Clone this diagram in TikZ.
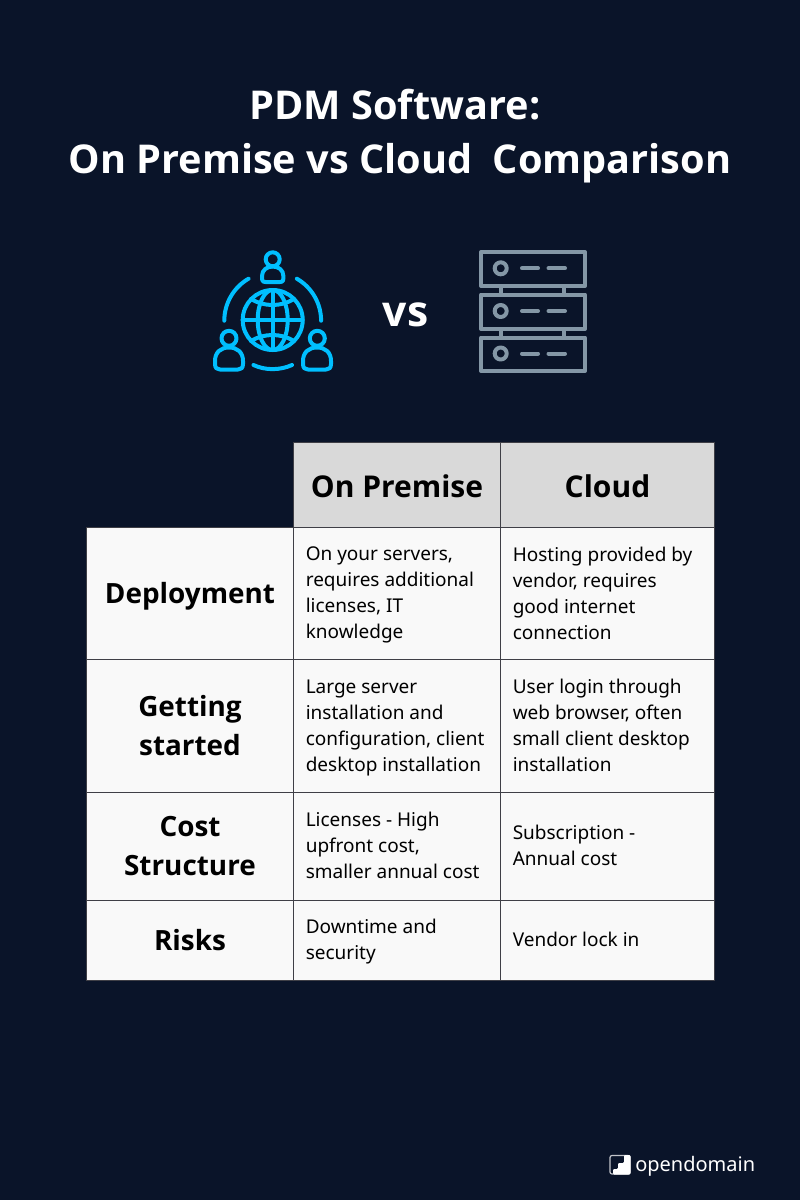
\documentclass[tikz,border=0pt]{standalone}
\usepackage{fontspec}
\setmainfont{Noto Sans}
\newfontfamily\hb{Open Sans}
\definecolor{bgc}{HTML}{0A1429}
\definecolor{hdr}{HTML}{D9D9D9}
\definecolor{cellc}{HTML}{F9F9F9}
\definecolor{linec}{HTML}{3F3F46}
\definecolor{cyanc}{HTML}{00BFFF}
\definecolor{srvc}{HTML}{8497A6}
\tikzset{
 x=0.75pt,y=-0.75pt,
 cell/.style={draw=linec,line width=0.75pt,fill=cellc,inner sep=0pt,anchor=north west,text=black},
 headc/.style={cell,fill=hdr},
 st/.style={execute at begin node=\strut,execute at end node=\strut},
 hd/.style={font=\hb\fontsize{22.5pt}{28pt}\selectfont\bfseries,align=center,st,inner sep=0pt,yshift=-5*0.75pt},
 rowh/.style={font=\hb\fontsize{20.9pt}{29pt}\selectfont\bfseries,align=center,st,inner sep=0pt,yshift=-3*0.75pt},
 body/.style={font=\fontsize{14.25pt}{19.5pt}\selectfont,align=left,anchor=west,text=black,inner sep=0pt,st,yshift=-4*0.75pt},
 titl/.style={font=\hb\fontsize{29.75pt}{40.5pt}\selectfont\bfseries,align=center,text=white,st,inner sep=0pt},
 ic/.style={draw=cyanc,line width=3pt,line cap=round,line join=round},
 sv/.style={draw=srvc,line width=3pt,line cap=round,line join=round},
}
\begin{document}
\begin{tikzpicture}
\useasboundingbox (0,0) rectangle (800,1200);
\fill[bgc] (0,0) rectangle (800,1200);
\node[titl] (title) at (400,139.5) {PDM Software:\hspace*{7.5pt}\\On Premise vs Cloud\ \ Comparison};
\node[text=white,font=\hb\fontsize{32pt}{32pt}\selectfont\bfseries,inner sep=0pt,st] (vs) at (405.5,318) {vs};

% globe icon
\begin{scope}[ic]
\draw (272.7,320) circle (30);
\draw (242.7,320) -- (302.7,320);
\draw (272.7,290) -- (272.7,350);
\draw (272.7,320) ellipse (15 and 30);
\draw (251,299) .. controls (264,307) and (281,307) .. (294,299);
\draw (251,341) .. controls (264,333) and (281,333) .. (294,341);
\draw (224.3,320.7) arc (180:240:48.5);
\draw (321.1,320.7) arc (0:-60:48.5);
\draw (253.5,365) .. controls (265,370.5) and (280,370.5) .. (292,365);
\draw (272.7,259.3) circle (7);
\draw (229,338.3) circle (7.5);
\draw (317.3,338.3) circle (7.5);
\end{scope}
\draw[ic] (262,276) .. controls (262,270) and (267,266.5) .. (272.7,266.5) .. controls (278.4,266.5) and (283.4,270) .. (283.4,276) .. controls (283.4,280) and (283.4,282) .. (280,282) -- (265.4,282) .. controls (262,282) and (262,280) .. (262,276) -- cycle;
\draw[ic] (215,361) .. controls (215,352) and (221,347.5) .. (229,347.5) .. controls (237,347.5) and (243,352) .. (243,361) -- (243,364) .. controls (243,368) and (241,369.5) .. (238,369.5) -- (220,369.5) .. controls (217,369.5) and (215,368) .. (215,364) -- cycle;
\draw[ic] (303,361) .. controls (303,352) and (309,347.5) .. (317,347.5) .. controls (325,347.5) and (331,352) .. (331,361) -- (331,364) .. controls (331,368) and (329,369.5) .. (326,369.5) -- (308,369.5) .. controls (305,369.5) and (303,368) .. (303,364) -- cycle;

% server icon
\begin{scope}[sv]
\draw (481,252) rectangle (585,286);
\draw (481,294.5) rectangle (585,329);
\draw (481,337.5) rectangle (585,371);
\draw (500.7,286) -- (500.7,294.5) (564,286) -- (564,294.5);
\draw (500.7,329) -- (500.7,337.5) (564,329) -- (564,337.5);
\foreach \yy in {268.3,311,353.5}{
 \draw (500.7,\yy) circle (6);
 \draw (522,\yy) -- (538,\yy) (548.5,\yy) -- (565,\yy);
}
\end{scope}

% table
\node[headc,minimum width=207*0.75pt,minimum height=85*0.75pt] (h1) at (293,442) {};
\node[headc,minimum width=214*0.75pt,minimum height=85*0.75pt] (h2) at (500,442) {};
\node[hd] at (h1.center) {On Premise};
\node[hd] at (h2.center) {Cloud};

\node[cell,minimum width=207*0.75pt,minimum height=132*0.75pt] (r1) at (86,527) {};
\node[cell,minimum width=207*0.75pt,minimum height=133*0.75pt] (r2) at (86,659) {};
\node[cell,minimum width=207*0.75pt,minimum height=108*0.75pt] (r3) at (86,792) {};
\node[cell,minimum width=207*0.75pt,minimum height=80*0.75pt] (r4) at (86,900) {};

\node[cell,minimum width=207*0.75pt,minimum height=132*0.75pt] (a1) at (293,527) {};
\node[cell,minimum width=207*0.75pt,minimum height=133*0.75pt] (a2) at (293,659) {};
\node[cell,minimum width=207*0.75pt,minimum height=108*0.75pt] (a3) at (293,792) {};
\node[cell,minimum width=207*0.75pt,minimum height=80*0.75pt] (a4) at (293,900) {};

\node[cell,minimum width=214*0.75pt,minimum height=132*0.75pt] (b1) at (500,527) {};
\node[cell,minimum width=214*0.75pt,minimum height=133*0.75pt] (b2) at (500,659) {};
\node[cell,minimum width=214*0.75pt,minimum height=108*0.75pt] (b3) at (500,792) {};
\node[cell,minimum width=214*0.75pt,minimum height=80*0.75pt] (b4) at (500,900) {};

\node[rowh] at ([yshift=0.75pt]r1.center) {Deployment};
\node[rowh] at ([yshift=-1.5pt]r2.center) {Getting\\started};
\node[rowh] at ([yshift=-1.5pt]r3.center) {Cost\\Structure};
\node[rowh] at ([yshift=0.75pt]r4.center) {Risks};

\node[body] at (305.5,593) {On your servers,\\requires additional\\licenses, IT\\knowledge};
\node[body] at (305.5,725.5) {Large server\\installation and\\configuration, client\\desktop installation};
\node[body] at (305.5,845) {Licenses - High\\upfront cost,\\smaller annual cost};
\node[body] at (305.5,939) {Downtime and\\security};

\node[body] at (512.5,593) {Hosting provided by\\vendor, requires\\good internet\\connection};
\node[body] at (512.5,725.5) {User login through\\web browser, often\\small client desktop\\installation};
\node[body] at (512.5,845) {Subscription -\\Annual cost};
\node[body] at (512.5,937) {Vendor lock in};

% logo
\draw[white!75!bgc,line width=0.9pt,rounded corners=1.5pt] (610,1155.5) rectangle (630,1174);
\fill[white,rounded corners=0.8pt] (630.5,1155) -- (630.5,1174.5) -- (613,1174.5) -- (613,1169) -- (618,1169) -- (618,1163) -- (624,1163) -- (624,1155) -- cycle;
\node[text=white,font=\fontsize{15pt}{18pt}\selectfont,anchor=base west,inner sep=0pt] (logo) at (635,1171.5) {opendomain};
\end{tikzpicture}
\end{document}
